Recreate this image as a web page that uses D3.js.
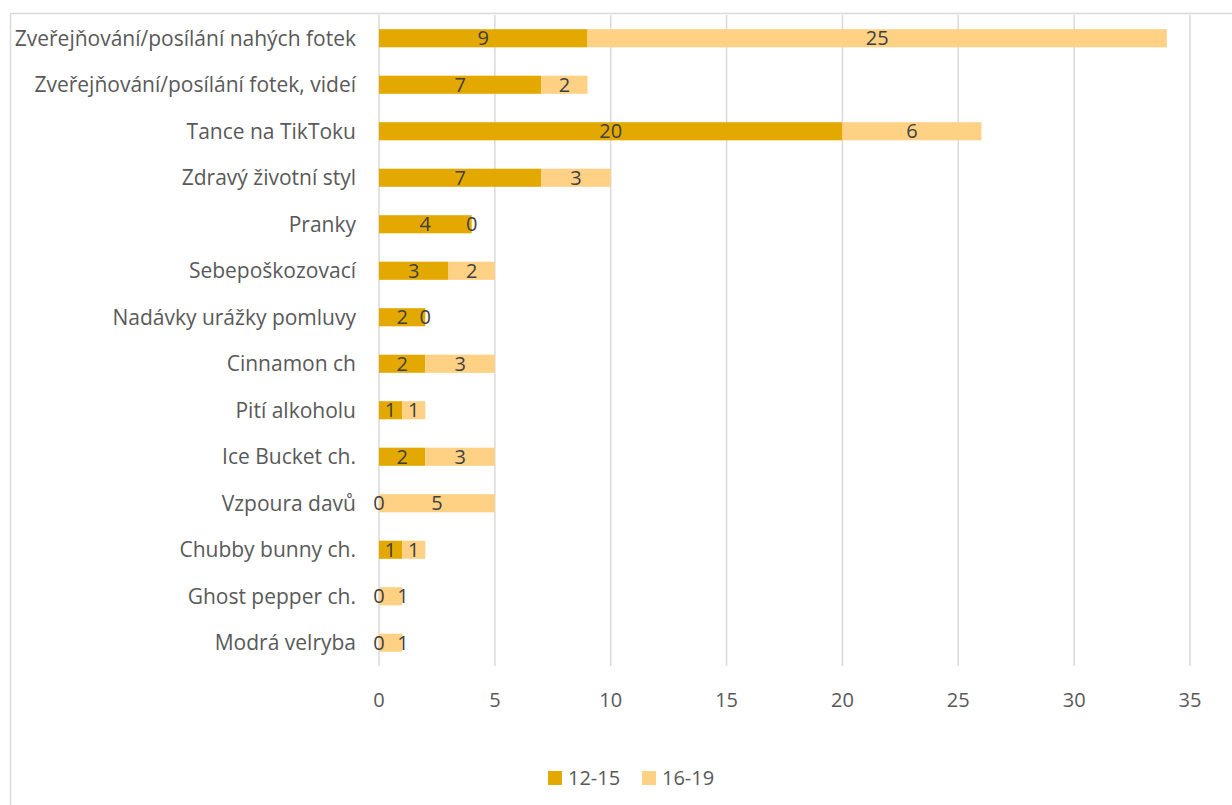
<!DOCTYPE html>
<html>
<head>
<meta charset="utf-8">
<script src="https://cdn.jsdelivr.net/npm/d3@7"></script>
<style>
  html, body { margin: 0; padding: 0; background: #fff; }
  svg { display: block; }
</style>
</head>
<body>
<div id="chart"></div>
<script>
const categories = [
  "Zveřejňování/posílání nahých fotek",
  "Zveřejňování/posílání fotek, videí",
  "Tance na TikToku",
  "Zdravý životní styl",
  "Pranky",
  "Sebepoškozovací",
  "Nadávky urážky pomluvy",
  "Cinnamon ch",
  "Pití alkoholu",
  "Ice Bucket ch.",
  "Vzpoura davů",
  "Chubby bunny ch.",
  "Ghost pepper ch.",
  "Modrá velryba"
];
const young = [9, 7, 20, 7, 4, 3, 2, 2, 1, 2, 0, 1, 0, 0];
const older = [25, 2, 6, 3, 0, 2, 0, 3, 1, 3, 5, 1, 1, 1];
const seriesNames = ["12-15", "16-19"];
const xTicks = [0, 5, 10, 15, 20, 25, 30, 35];

const width = 1232, height = 805;
const colors = ["#E3A900", "#FFD185"];
const font = "'Open Sans', sans-serif";
const textColor = "#595959";

const svg = d3.select("#chart").append("svg")
  .attr("width", width)
  .attr("height", height);

// chart border (cropped on right and bottom)
svg.append("rect")
  .attr("x", 10.5).attr("y", 13.5)
  .attr("width", 1300).attr("height", 900)
  .attr("fill", "none")
  .attr("stroke", "#d9d9d9")
  .attr("stroke-width", 1.5);

const x = d3.scaleLinear().domain([0, 35]).range([379, 1190]);
const y = d3.scaleBand().domain(categories).range([15, 666]).paddingInner(0.61).paddingOuter(0.305);

// gridlines
svg.append("g")
  .selectAll("line")
  .data(xTicks)
  .join("line")
  .attr("x1", d => x(d)).attr("x2", d => x(d))
  .attr("y1", 15).attr("y2", 666)
  .attr("stroke", "#d9d9d9")
  .attr("stroke-width", 1.5);

const rows = categories.map((c, i) => ({ cat: c, vals: [young[i], older[i]] }));
const segs = [];
rows.forEach(r => {
  let start = 0;
  r.vals.forEach((v, k) => {
    const s = { cat: r.cat, k, x0: start, x1: start + v, v };
    s.lx = x((s.x0 + s.x1) / 2);
    // nudge a label right when it would sit on top of the previous one
    if (k > 0) {
      const prev = segs[segs.length - 1];
      if (s.lx - prev.lx < 16) s.lx = prev.lx + 24;
    }
    segs.push(s);
    start += v;
  });
});

svg.append("g")
  .selectAll("rect")
  .data(segs)
  .join("rect")
  .attr("x", d => x(d.x0))
  .attr("y", d => y(d.cat))
  .attr("width", d => x(d.x1) - x(d.x0))
  .attr("height", y.bandwidth())
  .attr("fill", d => colors[d.k]);

// data labels
svg.append("g")
  .selectAll("text")
  .data(segs)
  .join("text")
  .attr("x", d => d.lx)
  .attr("y", d => y(d.cat) + y.bandwidth() / 2)
  .attr("dy", "0.36em")
  .attr("text-anchor", "middle")
  .attr("fill", "#404040")
  .style("font-family", font)
  .style("font-size", "20px")
  .text(d => d.v);

// category labels
svg.append("g")
  .selectAll("text")
  .data(categories)
  .join("text")
  .attr("x", 356)
  .attr("y", d => y(d) + y.bandwidth() / 2)
  .attr("dy", "0.36em")
  .attr("text-anchor", "end")
  .attr("fill", textColor)
  .style("font-family", font)
  .style("font-size", "21px")
  .text(d => d);

// x tick labels
svg.append("g")
  .selectAll("text")
  .data(xTicks)
  .join("text")
  .attr("x", d => x(d))
  .attr("y", 700)
  .attr("dy", "0.36em")
  .attr("text-anchor", "middle")
  .attr("fill", textColor)
  .style("font-family", font)
  .style("font-size", "20px")
  .text(d => d);

// legend
const legend = svg.append("g");
[548, 642].forEach((lx, i) => {
  legend.append("rect")
    .attr("x", lx).attr("y", 771)
    .attr("width", 14).attr("height", 14)
    .attr("fill", colors[i]);
  legend.append("text")
    .attr("x", lx + 20).attr("y", 778)
    .attr("dy", "0.36em")
    .attr("fill", textColor)
    .style("font-family", font)
    .style("font-size", "20px")
    .text(seriesNames[i]);
});
</script>
</body>
</html>
